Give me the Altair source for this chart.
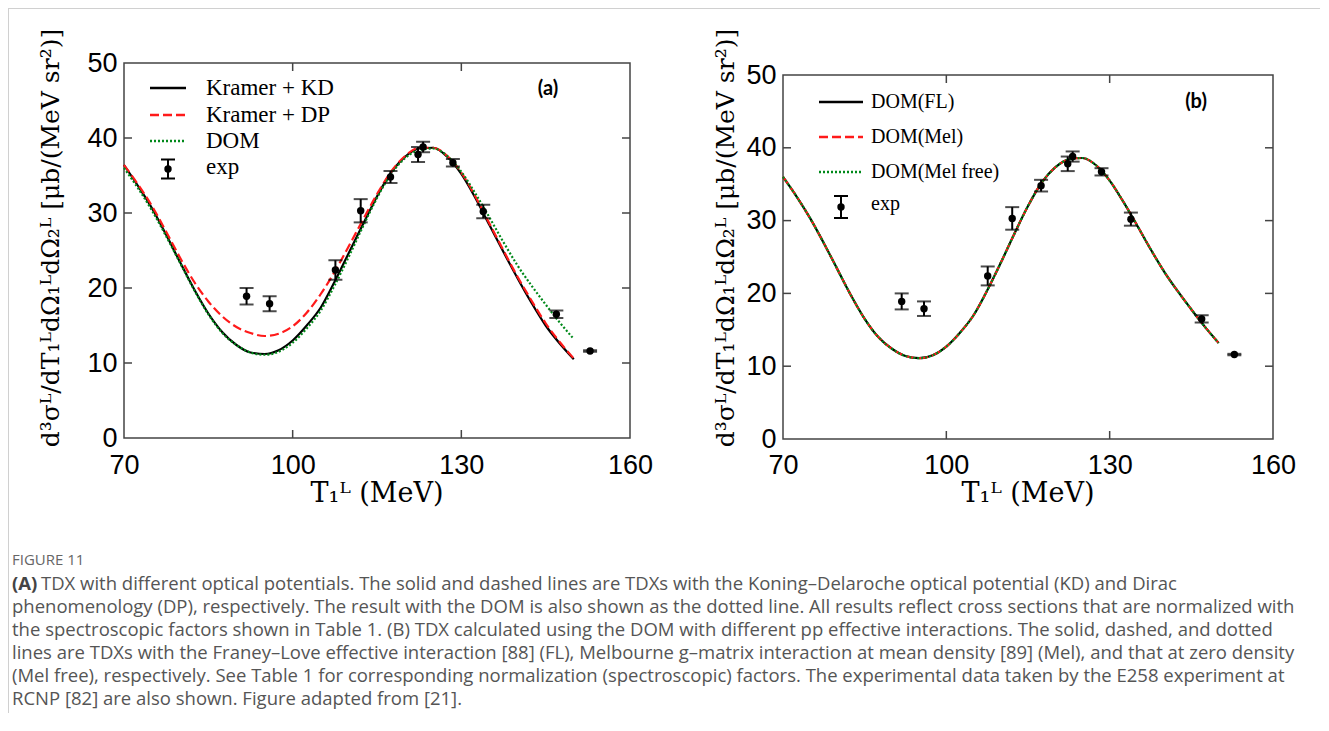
import altair as alt
import pandas as pd

# ---------------- data ----------------
E_grid = [70, 72.5, 75, 77.5, 80, 82.5, 85, 87.5, 90, 92.5, 95, 97.5, 100, 102.5, 105,
          107.5, 110, 112.5, 115, 117.5, 120, 122.5, 125, 127.5, 130, 132.5, 135, 137.5,
          140, 142.5, 145, 147.5, 150]
KD = [36.4, 33.6, 30.6, 27.1, 23.4, 19.8, 16.6, 14.1, 12.4, 11.4, 11.2, 11.7, 13.0, 15.0, 17.4,
      20.9, 24.7, 28.5, 32.2, 35.4, 37.5, 38.6, 38.7, 37.5, 35.2, 32.0, 28.4, 24.8,
      21.3, 18.0, 15.0, 12.6, 10.5]
DP = [36.4, 33.8, 30.9, 27.5, 24.0, 20.8, 18.2, 16.2, 14.8, 14.0, 13.6, 13.9, 14.9, 16.7, 19.2,
      22.2, 25.6, 29.1, 32.5, 35.5, 37.6, 38.7, 38.7, 37.6, 35.4, 32.2, 28.6, 25.0,
      21.5, 18.3, 15.3, 12.8, 10.6]
DOM = [36.0, 33.3, 30.3, 26.9, 23.3, 19.7, 16.5, 14.0, 12.4, 11.4, 11.1, 11.5, 12.7, 14.6, 17.0,
       20.4, 24.2, 28.2, 32.0, 35.2, 37.3, 38.4, 38.6, 37.6, 35.5, 32.6, 29.4, 26.1,
       23.0, 20.3, 17.8, 15.4, 13.2]

E_exp = [91.8, 95.9, 107.6, 112.1, 117.4, 122.3, 123.2, 128.5, 133.9, 146.9, 152.9]
exp_val = [18.9, 17.9, 22.4, 30.3, 34.8, 37.8, 38.8, 36.7, 30.2, 16.5, 11.6]
exp_err = [1.1, 1.0, 1.3, 1.55, 0.8, 1.0, 0.7, 0.5, 0.9, 0.5, 0.1]

x_ticks = [70, 100, 130, 160]
y_ticks = [0, 10, 20, 30, 40, 50]
inner_x_ticks = [100, 130]
inner_y_ticks = [10, 20, 30, 40]

legend_a = ["Kramer + KD", "Kramer + DP", "DOM", "exp"]
legend_b = ["DOM(FL)", "DOM(Mel)", "DOM(Mel free)", "exp"]

y_title = "d\u00b3\u03c3\u1d38/dT\u2081\u1d38d\u03a9\u2081\u1d38d\u03a9\u2082\u1d38 [\u03bcb/(MeV sr\u00b2)]"
x_title = "T\u2081\u1d38 (MeV)"

caption_head = "FIGURE 11"
caption_lines = [
    "TDX with different optical potentials. The solid and dashed lines are TDXs with the Koning\u2013Delaroche optical potential (KD) and Dirac",
    "phenomenology (DP), respectively. The result with the DOM is also shown as the dotted line. All results reflect cross sections that are normalized with",
    "the spectroscopic factors shown in Table 1. (B) TDX calculated using the DOM with different pp effective interactions. The solid, dashed, and dotted",
    "lines are TDXs with the Franey\u2013Love effective interaction [88] (FL), Melbourne g\u2013matrix interaction at mean density [89] (Mel), and that at zero density",
    "(Mel free), respectively. See Table 1 for corresponding normalization (spectroscopic) factors. The experimental data taken by the E258 experiment at",
    "RCNP [82] are also shown. Figure adapted from [21].",
]

# ---------------- helpers ----------------
base = pd.DataFrame({"k": [0]})
curves = pd.DataFrame({"E": E_grid, "KD": KD, "DP": DP, "DOM": DOM})
exp_df = pd.DataFrame({
    "E": E_exp,
    "v": exp_val,
    "lo": [v - e for v, e in zip(exp_val, exp_err)],
    "hi": [v + e for v, e in zip(exp_val, exp_err)],
})
tx_df = pd.DataFrame({"E": inner_x_ticks})
ty_df = pd.DataFrame({"v": inner_y_ticks})

RED = "#ff1a1a"
GREEN = "#00891a"
FRAME = "#444444"
CAP_FONT = "Open Sans"
CAP_SIZE = 18.5


def txt(s, x, y, size, font="Liberation Serif", color="black", align="left",
        angle=0, weight="normal", baseline="middle"):
    kw = dict(text=s, fontSize=size, font=font, color=color, align=align,
              baseline=baseline, fontWeight=weight)
    if angle:
        kw["angle"] = angle
    return alt.Chart(base).mark_text(**kw).encode(x=alt.value(x), y=alt.value(y))


def rule(x1, x2, y1, y2, color, width, dash=None):
    kw = dict(color=color, strokeWidth=width)
    if dash:
        kw["strokeDash"] = dash
    return alt.Chart(base).mark_rule(**kw).encode(
        x=alt.value(x1), x2=alt.value(x2), y=alt.value(y1), y2=alt.value(y2))


def exp_symbol(cx, cy, half):
    return [
        rule(cx, cx, cy - half, cy + half, "black", 2),
        rule(cx - 7, cx + 7, cy - half, cy - half, "black", 2),
        rule(cx - 7, cx + 7, cy + half, cy + half, "black", 2),
        alt.Chart(base).mark_circle(size=55, color="black", opacity=1).encode(
            x=alt.value(cx), y=alt.value(cy)),
    ]


def panel(xl, xr, yt, yb, ax_offset, series, legend_labels, leg, tag, tag_pos,
          ytitle_x, xtitle_x):
    xs = alt.Scale(domain=[70, 160], range=[xl, xr], nice=False, zero=False)
    ys = alt.Scale(domain=[0, 50], range=[yb, yt], nice=False, zero=False)
    axx = alt.Axis(values=x_ticks, orient="bottom", grid=False, domain=False, ticks=False,
                   tickSize=0, labelFont="Liberation Sans", labelFontSize=27,
                   labelColor="black", labelPadding=13, labelFlush=False, format="d",
                   title=None)
    axy = alt.Axis(values=y_ticks, orient="left", offset=ax_offset, grid=False,
                   domain=False, ticks=False, tickSize=0, labelFont="Liberation Sans",
                   labelFontSize=27, labelColor="black", labelPadding=7, format="d",
                   title=None)
    X = alt.X("E:Q", scale=xs, axis=axx)

    layers = []
    # frame
    layers.append(alt.Chart(base).mark_rect(fillOpacity=0, stroke=FRAME, strokeWidth=1.5).encode(
        x=alt.value(xl), x2=alt.value(xr), y=alt.value(yt), y2=alt.value(yb)))
    # inward ticks
    for y1, y2 in [(yb, yb - 8), (yt, yt + 8)]:
        layers.append(alt.Chart(tx_df).mark_rule(color=FRAME, strokeWidth=1.5).encode(
            x=X, y=alt.value(y1), y2=alt.value(y2)))
    for x1, x2 in [(xl, xl + 8), (xr - 8, xr)]:
        layers.append(alt.Chart(ty_df).mark_rule(color=FRAME, strokeWidth=1.5).encode(
            y=alt.Y("v:Q", scale=ys, axis=axy), x=alt.value(x1), x2=alt.value(x2)))
    # curves
    for col, color, dash in series:
        kw = dict(color=color, strokeWidth=2.2, interpolate="monotone")
        if dash:
            kw["strokeDash"] = dash
        layers.append(alt.Chart(curves).mark_line(**kw).encode(
            x=X, y=alt.Y(col + ":Q", scale=ys, axis=axy)))
    # experimental points
    layers.append(alt.Chart(exp_df).mark_rule(color="black", strokeWidth=2).encode(
        x=X, y=alt.Y("lo:Q", scale=ys, axis=axy), y2="hi:Q"))
    for f in ["lo", "hi"]:
        layers.append(alt.Chart(exp_df).mark_tick(color="black", orient="horizontal",
                                                  size=14, thickness=2).encode(
            x=X, y=alt.Y(f + ":Q", scale=ys, axis=axy)))
    layers.append(alt.Chart(exp_df).mark_circle(size=55, color="black", opacity=1).encode(
        x=X, y=alt.Y("v:Q", scale=ys, axis=axy)))

    # legend
    lx1, lx2, tx, rows, fsize, exp_half, exp_text_y = leg
    for i, (col, color, dash) in enumerate(series):
        layers.append(rule(lx1, lx2, rows[i], rows[i], color, 2.5, dash))
        layers.append(txt(legend_labels[i], tx, rows[i], fsize))
    layers += exp_symbol((lx1 + lx2) / 2, rows[3], exp_half)
    layers.append(txt(legend_labels[3], tx, exp_text_y, fsize))
    # panel tag
    layers.append(txt(tag, tag_pos[0], tag_pos[1], 20, font="Lato", weight="bold",
                      align="center"))
    # axis titles
    layers.append(txt(y_title, ytitle_x, 175, 25, font="DejaVu Serif", align="center",
                      angle=270))
    layers.append(txt(x_title, xtitle_x, 431, 27, font="DejaVu Serif", align="center"))
    return layers


series_a = [("KD", "black", None), ("DP", RED, [9, 4]), ("DOM", GREEN, [2, 2])]
series_b = [("DOM", "black", None), ("DOM", RED, [9, 4]), ("DOM", GREEN, [2, 2])]

layers_a = panel(0, 506, 0, 375, 0, series_a, legend_a,
                 (26, 62, 82, [25, 52, 78, 106], 23, 9.5, 104), "(a)", (424, 26), -73, 253)
layers_b = panel(659, 1149, 12, 376, -659, series_b, legend_b,
                 (695, 739, 747, [39, 74, 109, 144], 20, 11, 141), "(b)", (1072, 39), 602, 904)

# page frame lines and caption
deco = [
    rule(-116, 1197, -54.5, -54.5, "#d0d0d0", 1),
    rule(-115.5, -115.5, -55, 650, "#d0d0d0", 1),
    txt(caption_head, -112, 497, 15, font=CAP_FONT, color="#666666"),
    txt("(A)", -112, 521, CAP_SIZE, font=CAP_FONT, color="#444444", weight="bold"),
    txt(caption_lines[0], -83, 521, CAP_SIZE, font=CAP_FONT, color="#555555"),
]
for i, line in enumerate(caption_lines[1:]):
    deco.append(txt(line, -112, 544 + 23 * i, CAP_SIZE, font=CAP_FONT, color="#555555"))

chart = alt.layer(
    alt.layer(*(layers_a + deco)),
    alt.layer(*layers_b),
).resolve_scale(x="independent", y="independent").properties(
    width=1149, height=376,
    autosize=alt.AutoSizeParams(type="none"),
    padding={"left": 116, "top": 55, "right": 47, "bottom": 274},
    background="white",
).configure_view(strokeWidth=0)

chart.save("out.html", embed_options={"renderer": "svg", "actions": False})
